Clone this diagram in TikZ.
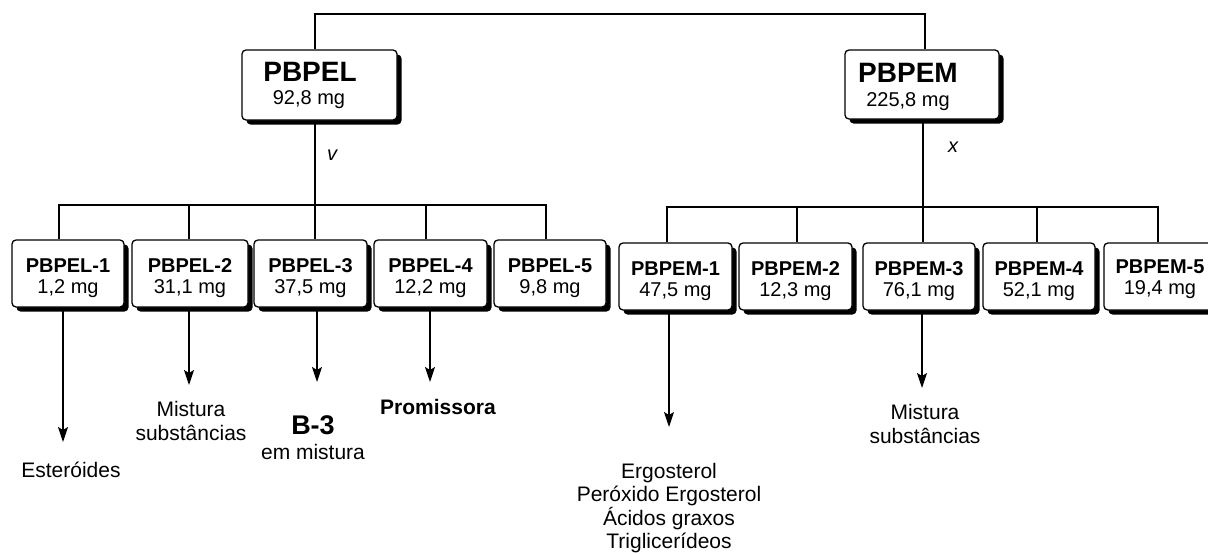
\documentclass[tikz,border=0pt]{standalone}
\usepackage{fontspec}
\setmainfont{Liberation Sans}
\usetikzlibrary{shadows,arrows.meta,calc}
\begin{document}
\begin{tikzpicture}[x=1pt,y=-1pt,
  box/.style={draw=black, line width=1.3pt, fill=white, rounded corners=4pt,
    general shadow={fill=black, shadow xshift=4.5pt, shadow yshift=-4.5pt},
    inner sep=0pt},
  cbox/.style={box, minimum height=67pt},
  conn/.style={draw=black, line width=1.3pt},
  arr/.style={conn, -{Stealth[length=15pt,width=10pt,inset=3pt]}},
  bigttl/.style={font=\fontsize{28}{30}\selectfont\bfseries, inner sep=0pt},
  bigsub/.style={font=\fontsize{20}{22}\selectfont, inner sep=0pt},
  ttl/.style={font=\fontsize{20}{22}\selectfont\bfseries, inner sep=0pt},
  sub/.style={font=\fontsize{20}{22}\selectfont, inner sep=0pt},
  lbl/.style={font=\fontsize{21}{23.5}\selectfont, align=center, inner sep=0pt},
  var/.style={font=\fontsize{20}{22}\selectfont\itshape, inner sep=0pt}
]
\useasboundingbox (0,0) rectangle (1208,554);

% parent boxes
\node[box, minimum width=155pt, minimum height=70pt] (pbpel) at (319.5,85) {};
\node[bigttl] (pbpelt) at (310,71.5) {PBPEL};
\node[bigsub] (pbpelm) at (309,100) {92,8 mg};

\node[box, minimum width=154pt, minimum height=69pt] (pbpem) at (922,84.5) {};
\node[bigttl] (pbpemt) at (908,73) {PBPEM};
\node[bigsub] (pbpemm) at (908,102) {225,8 mg};

% top connector
\coordinate (tl) at (315,14);
\coordinate (tr) at (925,14);
\draw[conn] (tl |- pbpel.north) -- (tl) -- (tr) -- (tr |- pbpem.north);

% left children
\node[cbox, minimum width=112pt] (l1) at (68,273.5) {};
\node[cbox, minimum width=116pt] (l2) at (190,273.5) {};
\node[cbox, minimum width=113pt] (l3) at (310.5,273.5) {};
\node[cbox, minimum width=113pt] (l4) at (430.5,273.5) {};
\node[cbox, minimum width=112pt] (l5) at (550,273.5) {};
\node[ttl] (l1t) at ($(l1)+(0,-8)$) {PBPEL-1};
\node[sub] (l1m) at ($(l1)+(0,15)$) {1,2 mg};
\node[ttl] (l2t) at ($(l2)+(0,-8)$) {PBPEL-2};
\node[sub] (l2m) at ($(l2)+(0,15)$) {31,1 mg};
\node[ttl] (l3t) at ($(l3)+(0,-8)$) {PBPEL-3};
\node[sub] (l3m) at ($(l3)+(0,15)$) {37,5 mg};
\node[ttl] (l4t) at ($(l4)+(0,-8)$) {PBPEL-4};
\node[sub] (l4m) at ($(l4)+(0,15)$) {12,2 mg};
\node[ttl] (l5t) at ($(l5)+(0,-8)$) {PBPEL-5};
\node[sub] (l5m) at ($(l5)+(0,15)$) {9,8 mg};

% right children
\node[cbox, minimum width=113pt] (r1) at (675.5,276.5) {};
\node[cbox, minimum width=113pt] (r2) at (795.5,276.5) {};
\node[cbox, minimum width=112pt] (r3) at (919,276.5) {};
\node[cbox, minimum width=112pt] (r4) at (1039,276.5) {};
\node[cbox, minimum width=112pt] (r5) at (1160,276.5) {};
\node[ttl] (r1t) at ($(r1)+(0,-8)$) {PBPEM-1};
\node[sub] (r1m) at ($(r1)+(0,15)$) {47,5 mg};
\node[ttl] (r2t) at ($(r2)+(0,-8)$) {PBPEM-2};
\node[sub] (r2m) at ($(r2)+(0,15)$) {12,3 mg};
\node[ttl] (r3t) at ($(r3)+(0,-8)$) {PBPEM-3};
\node[sub] (r3m) at ($(r3)+(0,15)$) {76,1 mg};
\node[ttl] (r4t) at ($(r4)+(0,-8)$) {PBPEM-4};
\node[sub] (r4m) at ($(r4)+(0,15)$) {52,1 mg};
\node[ttl] (r5t) at ($(r5)+(0,-10)$) {PBPEM-5};
\node[sub] (r5m) at ($(r5)+(0,13)$) {19,4 mg};

% left bar
\coordinate (lb) at (315,205);
\coordinate (lb1) at (59,205);
\coordinate (lb2) at (189,205);
\coordinate (lb4) at (426,205);
\coordinate (lb5) at (546,205);
\draw[conn] (lb |- pbpel.south) -- (lb) -- (lb |- l3.north);
\draw[conn] (lb1 |- l1.north) -- (lb1) -- (lb5) -- (lb5 |- l5.north);
\draw[conn] (lb2) -- (lb2 |- l2.north);
\draw[conn] (lb4) -- (lb4 |- l4.north);
\node[var] (v) at (332,155) {v};

% right bar
\coordinate (rb) at (923,207);
\coordinate (rb1) at (667,207);
\coordinate (rb2) at (797,207);
\coordinate (rb4) at (1037,207);
\coordinate (rb5) at (1158,207);
\draw[conn] (rb |- pbpem.south) -- (rb) -- (rb |- r3.north);
\draw[conn] (rb1 |- r1.north) -- (rb1) -- (rb5) -- (rb5 |- r5.north);
\draw[conn] (rb2) -- (rb2 |- r2.north);
\draw[conn] (rb4) -- (rb4 |- r4.north);
\node[var] (x) at (953,147) {x};

% arrows
\coordinate (a1) at (63,442);
\coordinate (a2) at (189,385);
\coordinate (a3) at (317,382);
\coordinate (a4) at (430,382);
\coordinate (a5) at (669,427);
\coordinate (a6) at (922,388);
\draw[arr] (a1 |- l1.south) -- (a1);
\draw[arr] (a2 |- l2.south) -- (a2);
\draw[arr] (a3 |- l3.south) -- (a3);
\draw[arr] (a4 |- l4.south) -- (a4);
\draw[arr] (a5 |- r1.south) -- (a5);
\draw[arr] (a6 |- r3.south) -- (a6);

% result labels
\node[lbl] (t1) at (71,470) {Esteróides};
\node[lbl] (t2) at (191,421) {Mistura\\substâncias};
\node[font=\fontsize{27}{29}\selectfont\bfseries, inner sep=0pt] (t3a) at (313,425) {B-3};
\node[lbl] (t3b) at (313,452) {em mistura};
\node[lbl, font=\fontsize{21}{23.5}\selectfont\bfseries] (t4) at (438,407) {Promissora};
\node[lbl] (t5) at (669,508) {Ergosterol\\Peróxido Ergosterol\\Ácidos graxos\\Triglicerídeos};
\node[lbl] (t6) at (925,424) {Mistura\\substâncias};
\end{tikzpicture}
\end{document}
